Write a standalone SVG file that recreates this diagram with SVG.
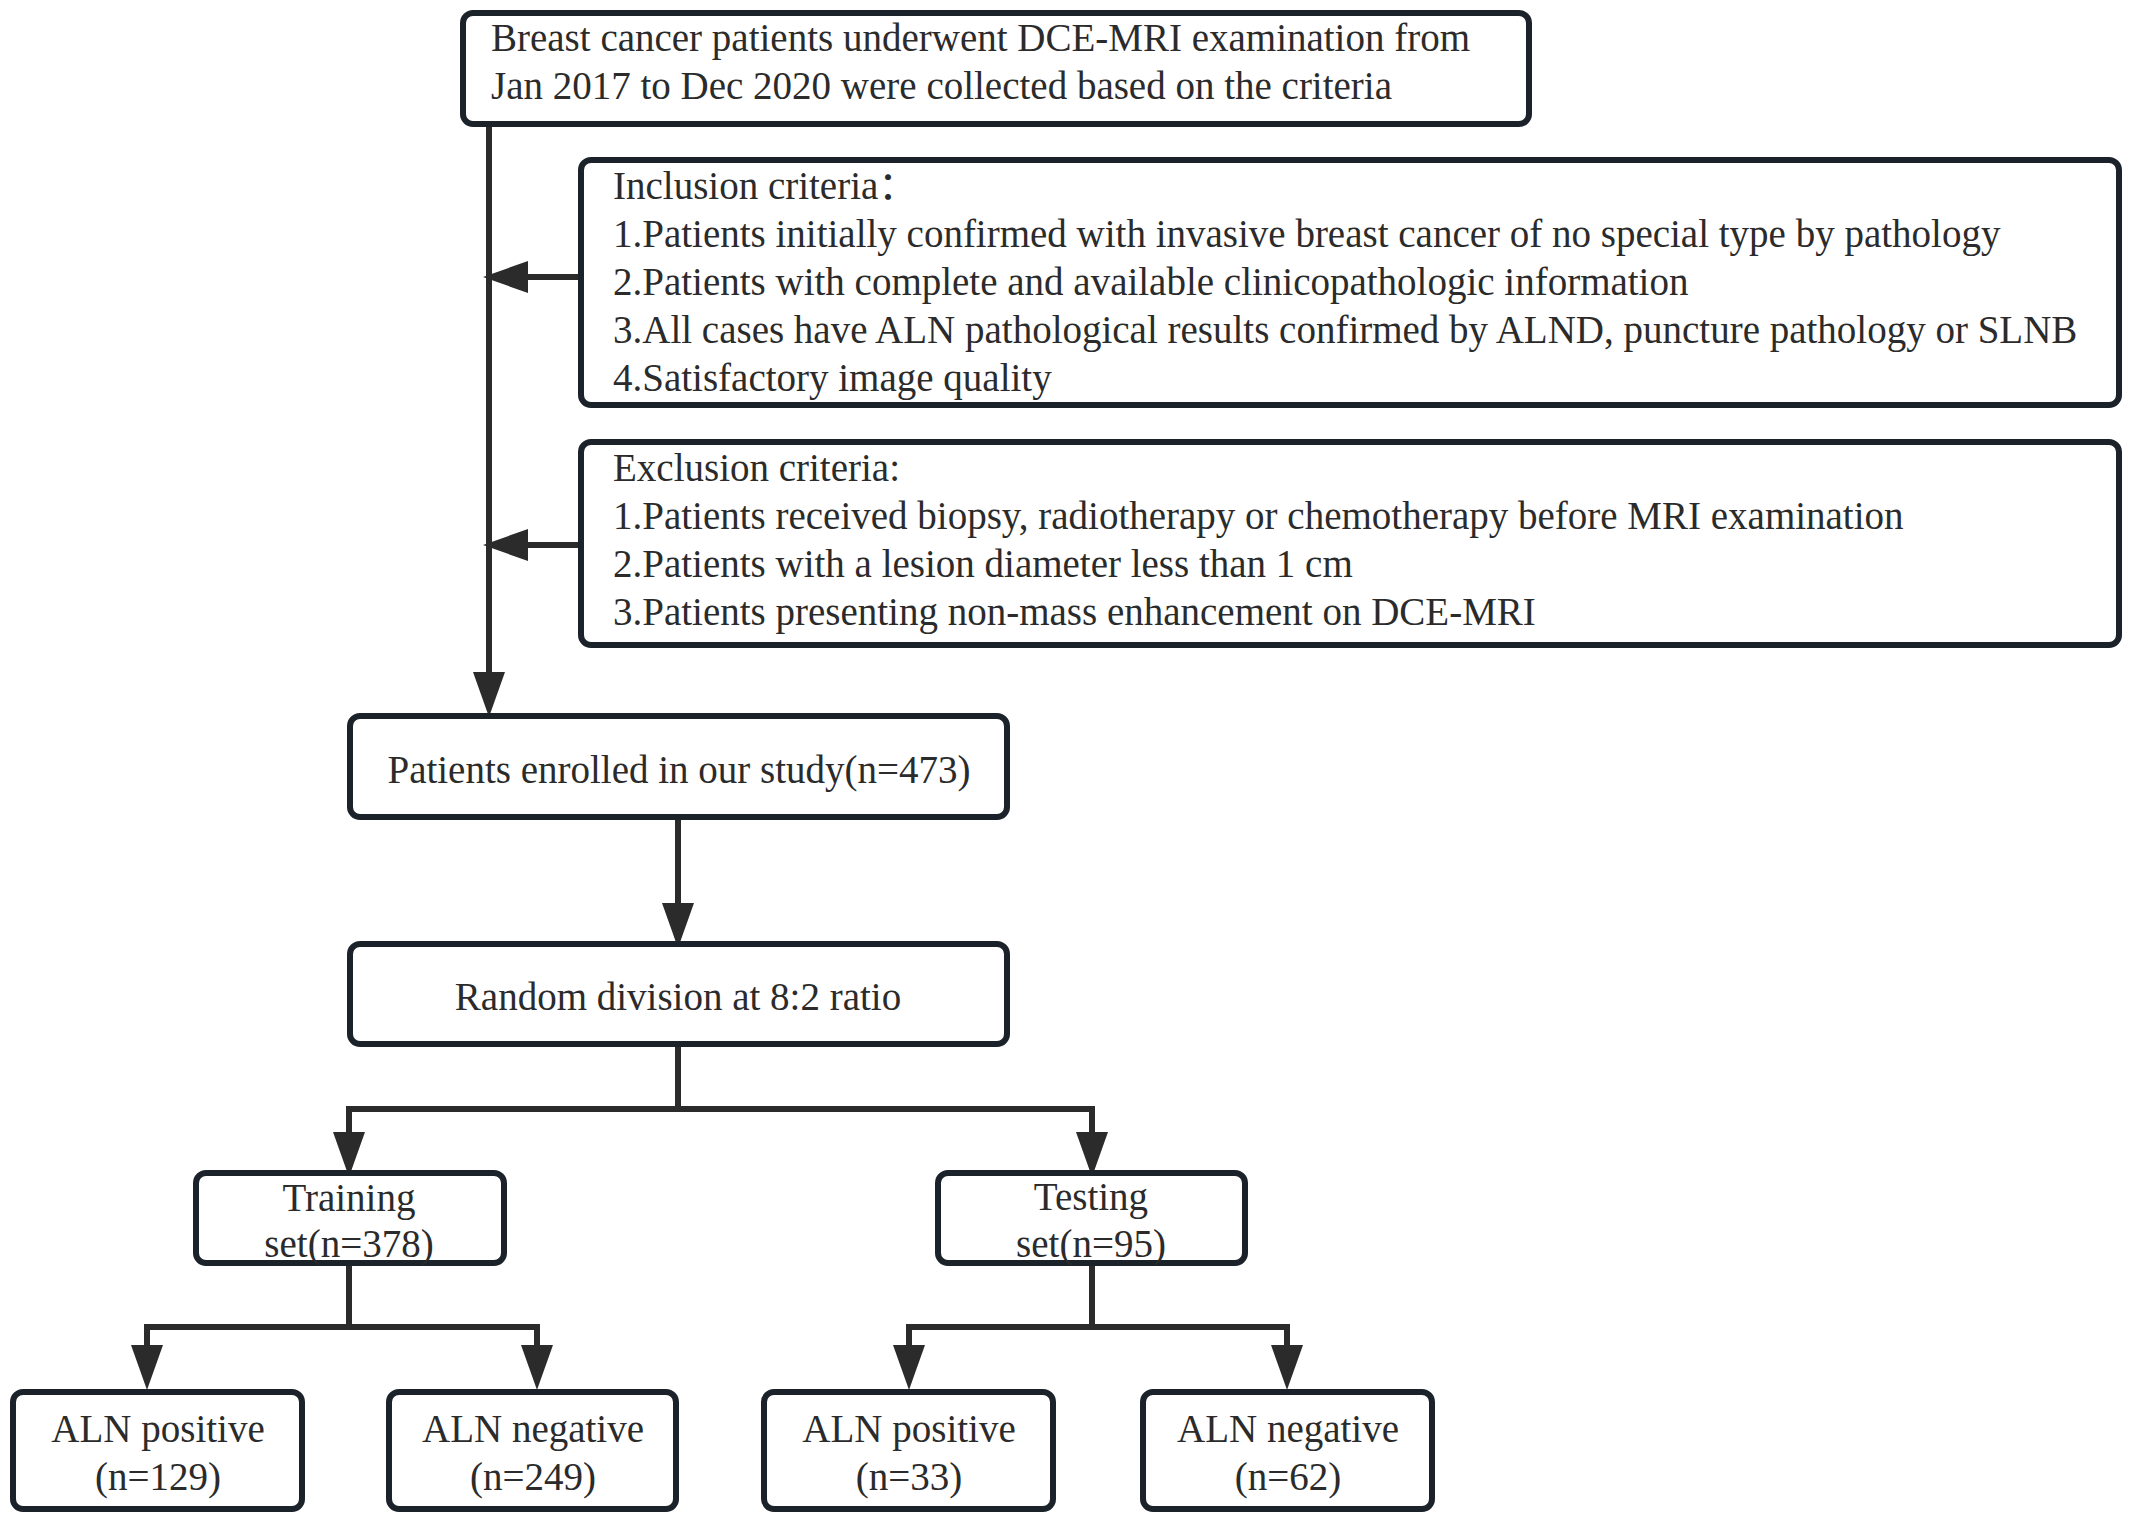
<svg xmlns="http://www.w3.org/2000/svg" width="2130" height="1522" viewBox="0 0 2130 1522">
<style>
.box{fill:#fff;stroke:#1b222a;stroke-width:6}
.t{font-family:"Liberation Serif","Noto Sans CJK SC",serif;font-size:39px;fill:#2b2b2b}
.c{text-anchor:middle}
.ln{fill:none;stroke:#2b2b2b;stroke-width:6}
</style>
<defs>
<marker id="ah" viewBox="0 0 45 32" refX="5" refY="16" markerWidth="45" markerHeight="32" markerUnits="userSpaceOnUse" orient="auto">
<path d="M0,0 L45,16 L0,32 z" fill="#2b2b2b"/>
</marker>
</defs>
<rect width="2130" height="1522" fill="#fff"/>
<g id="connectors">
<path class="ln" d="M489,124 V677" marker-end="url(#ah)"/>
<path class="ln" d="M581,277 H523" marker-end="url(#ah)"/>
<path class="ln" d="M581,545 H523" marker-end="url(#ah)"/>
<path class="ln" d="M678,817 V908" marker-end="url(#ah)"/>
<path class="ln" d="M678,1044 V1109"/>
<path class="ln" d="M346,1109 H1095"/>
<path class="ln" d="M349,1109 V1137" marker-end="url(#ah)"/>
<path class="ln" d="M1092,1109 V1137" marker-end="url(#ah)"/>
<path class="ln" d="M349,1263 V1327"/>
<path class="ln" d="M144,1327 H540"/>
<path class="ln" d="M147,1327 V1350" marker-end="url(#ah)"/>
<path class="ln" d="M537,1327 V1350" marker-end="url(#ah)"/>
<path class="ln" d="M1092,1263 V1327"/>
<path class="ln" d="M906,1327 H1290"/>
<path class="ln" d="M909,1327 V1350" marker-end="url(#ah)"/>
<path class="ln" d="M1287,1327 V1350" marker-end="url(#ah)"/>
</g>
<g id="source">
<rect class="box" x="463" y="13" width="1066" height="111" rx="10"/>
<text class="t" x="491" y="51">Breast cancer patients underwent DCE-MRI examination from</text>
<text class="t" x="491" y="99">Jan 2017 to Dec 2020 were collected based on the criteria</text>
</g>
<g id="inclusion">
<rect class="box" x="581" y="160" width="1538" height="245" rx="10"/>
<text class="t" x="613" y="199">Inclusion criteria：</text>
<text class="t" x="613" y="247">1.Patients initially confirmed with invasive breast cancer of no special type by pathology</text>
<text class="t" x="613" y="295">2.Patients with complete and available clinicopathologic information</text>
<text class="t" x="613" y="343">3.All cases have ALN pathological results confirmed by ALND, puncture pathology or SLNB</text>
<text class="t" x="613" y="391">4.Satisfactory image quality</text>
</g>
<g id="exclusion">
<rect class="box" x="581" y="442" width="1538" height="203" rx="10"/>
<text class="t" x="613" y="481">Exclusion criteria:</text>
<text class="t" x="613" y="529">1.Patients received biopsy, radiotherapy or chemotherapy before MRI examination</text>
<text class="t" x="613" y="577">2.Patients with a lesion diameter less than 1 cm</text>
<text class="t" x="613" y="625">3.Patients presenting non-mass enhancement on DCE-MRI</text>
</g>
<g id="enrolled">
<rect class="box" x="350" y="716" width="657" height="101" rx="10"/>
<text class="t c" x="679" y="783">Patients enrolled in our study(n=473)</text>
</g>
<g id="random">
<rect class="box" x="350" y="944" width="657" height="100" rx="10"/>
<text class="t c" x="678" y="1010">Random division at 8:2 ratio</text>
</g>
<g id="training">
<rect class="box" x="196" y="1173" width="308" height="90" rx="10"/>
<text class="t c" x="349" y="1211">Training</text>
<text class="t c" x="349" y="1257">set(n=378)</text>
</g>
<g id="testing">
<rect class="box" x="938" y="1173" width="307" height="90" rx="10"/>
<text class="t c" x="1091" y="1210">Testing</text>
<text class="t c" x="1091" y="1257">set(n=95)</text>
</g>
<g id="train-pos">
<rect class="box" x="13" y="1392" width="289" height="117" rx="10"/>
<text class="t c" x="158" y="1442">ALN positive</text>
<text class="t c" x="158" y="1490">(n=129)</text>
</g>
<g id="train-neg">
<rect class="box" x="389" y="1392" width="287" height="117" rx="10"/>
<text class="t c" x="533" y="1442">ALN negative</text>
<text class="t c" x="533" y="1490">(n=249)</text>
</g>
<g id="test-pos">
<rect class="box" x="764" y="1392" width="289" height="117" rx="10"/>
<text class="t c" x="909" y="1442">ALN positive</text>
<text class="t c" x="909" y="1490">(n=33)</text>
</g>
<g id="test-neg">
<rect class="box" x="1143" y="1392" width="289" height="117" rx="10"/>
<text class="t c" x="1288" y="1442">ALN negative</text>
<text class="t c" x="1288" y="1490">(n=62)</text>
</g>
</svg>
